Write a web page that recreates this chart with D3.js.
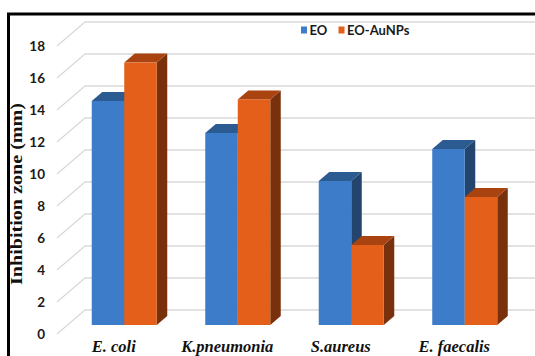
<!DOCTYPE html>
<html>
<head>
<meta charset="utf-8">
<script src="https://cdn.jsdelivr.net/npm/d3@7"></script>
<style>
  body { margin: 0; background: #ffffff; }
  svg { display: block; }
</style>
</head>
<body>
<div id="chart"></div>
<script>
"use strict";

// data
var categories = ["E. coli", "K.pneumonia", "S.aureus", "E. faecalis"];
var seriesNames = ["EO", "EO-AuNPs"];
var eoValues = [14, 12, 9, 11];
var auValues = [16.4, 14.1, 5, 8];
var yTicks = [0, 2, 4, 6, 8, 10, 12, 14, 16, 18];

// colours: front, top, side
var colors = {
	"EO": ["#3d7cc8", "#2c5b91", "#23456d"],
	"EO-AuNPs": ["#e35f1a", "#a9430f", "#79300d"]
};

var width = 535, height = 356;

// 3D depth: front plane -> back wall
var depthX = 28, depthY = -24;
var barD1 = 0.375, barD2 = 0.75;

function proj(x, y, d){
	return [x + depthX*d, y + depthY*d];
}

var svg = d3.select("#chart").append("svg")
	.attr("width", width)
	.attr("height", height);

var x = d3.scaleBand().domain(categories).range([57, 511]);
var xs = d3.scaleBand().domain(seriesNames)
	.range([x.bandwidth()/2 - 32.5, x.bandwidth()/2 + 32.5]);
var y = d3.scaleLinear().domain([0, 18]).range([334, 46]);

// gridlines: diagonal on the floor side + horizontal on back wall
var grid = svg.append("g");
yTicks.forEach(function(t){
	var a = proj(57, y(t), 0), b = proj(57, y(t), 1);
	grid.append("line")
		.attr("x1", a[0]).attr("y1", a[1])
		.attr("x2", b[0]).attr("y2", b[1])
		.attr("stroke", "#d9d9d9").attr("stroke-width", 1.3);
	grid.append("line")
		.attr("x1", b[0]).attr("y1", b[1])
		.attr("x2", width + 10).attr("y2", b[1])
		.attr("stroke", "#d9d9d9").attr("stroke-width", 1.3);
});

// tick labels
svg.append("g").selectAll("text")
	.data(yTicks)
	.enter().append("text")
	.attr("x", 45)
	.attr("y", function(d){ return y(d); })
	.attr("dy", "0.36em")
	.attr("text-anchor", "end")
	.style("font-family", "Lato, sans-serif")
	.style("font-weight", "bold")
	.style("font-size", "13.5px")
	.style("fill", "#1a1a1a")
	.text(function(d){ return d; });

// bars
var rows = categories.map(function(c, i){
	return {cat: c, vals: [{s: "EO", v: eoValues[i]}, {s: "EO-AuNPs", v: auValues[i]}]};
});

var barsG = svg.append("g");
rows.forEach(function(r){
	r.vals.forEach(function(d){
		var x0 = x(r.cat) + xs(d.s), x1 = x0 + xs.bandwidth();
		var yt = y(d.v), yb = y(0);
		var c = colors[d.s];
		var g = barsG.append("g");
		// side face
		g.append("polygon")
			.attr("points", [proj(x1, yt, barD1), proj(x1, yt, barD2), proj(x1, yb, barD2), proj(x1, yb, barD1)].join(" "))
			.attr("fill", c[2]);
		// top face
		g.append("polygon")
			.attr("points", [proj(x0, yt, barD1), proj(x1, yt, barD1), proj(x1, yt, barD2), proj(x0, yt, barD2)].join(" "))
			.attr("fill", c[1]);
		// front face
		var p = proj(x0, yt, barD1);
		g.append("rect")
			.attr("x", p[0]).attr("y", p[1])
			.attr("width", x1 - x0)
			.attr("height", yb - yt)
			.attr("fill", c[0]);
	});
});

// category labels
svg.append("g").selectAll("text")
	.data(categories)
	.enter().append("text")
	.attr("x", function(d){ return x(d) + x.bandwidth()/2; })
	.attr("y", 352)
	.attr("text-anchor", "middle")
	.style("font-family", "'Liberation Serif', 'Times New Roman', serif")
	.style("font-weight", "bold")
	.style("font-style", "italic")
	.style("font-size", "16.5px")
	.style("fill", "#111")
	.text(function(d){ return d; });

// y axis title
svg.append("text")
	.attr("transform", "translate(22,194) rotate(-90)")
	.attr("text-anchor", "middle")
	.attr("textLength", 182)
	.attr("lengthAdjust", "spacingAndGlyphs")
	.style("font-family", "'Liberation Serif', 'Times New Roman', serif")
	.style("font-weight", "bold")
	.style("font-size", "16px")
	.style("fill", "#111")
	.text("Inhibition zone (mm)");

// legend
var legend = svg.append("g");
var legendX = [301, 338.5];
seriesNames.forEach(function(s, i){
	legend.append("rect")
		.attr("x", legendX[i]).attr("y", 26.5)
		.attr("width", 6).attr("height", 7)
		.attr("fill", colors[s][0]);
	legend.append("text")
		.attr("x", legendX[i] + 8.5).attr("y", 30)
		.attr("dy", "0.36em")
		.style("font-family", "Lato, sans-serif")
		.style("font-weight", "bold")
		.style("font-size", "13px")
		.style("fill", "#1a1a1a")
		.text(s);
});

// frame
svg.append("rect")
	.attr("x", 8.5).attr("y", 14)
	.attr("width", width + 20).attr("height", height + 20)
	.attr("fill", "none")
	.attr("stroke", "#000")
	.attr("stroke-width", 3);
</script>
</body>
</html>
